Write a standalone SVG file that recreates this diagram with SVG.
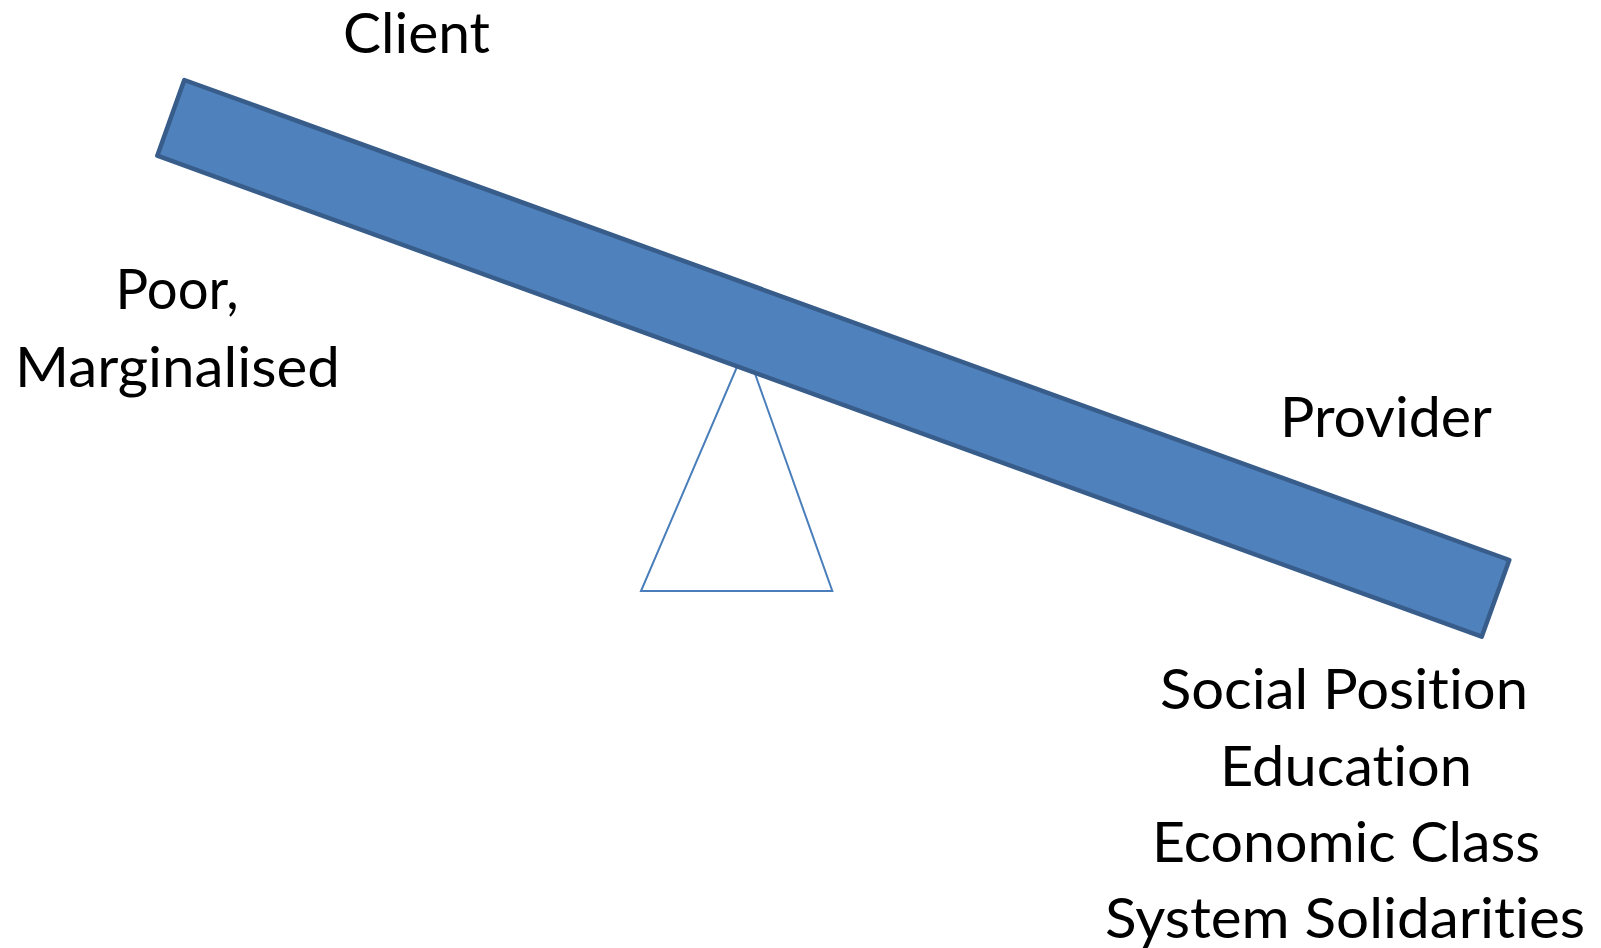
<svg xmlns="http://www.w3.org/2000/svg" width="1601" height="948" viewBox="0 0 1601 948">
<style>
.t{font-family:Lato,"Open Sans","Liberation Sans",sans-serif;font-size:56px;fill:#000;text-anchor:middle;font-variant-ligatures:none;font-feature-settings:"liga" 0,"clig" 0}
.beam{fill:#4f81bd;stroke:#385d8a;stroke-width:4.5;stroke-linejoin:round}
.fulcrum{fill:#fff;stroke:#4a7ebb;stroke-width:2}
</style>
<rect width="1601" height="948" fill="#fff"/>
<g id="fulcrum">
<polygon class="fulcrum" points="745.5,347 832.3,591 641,591"/>
</g>
<g id="beam">
<polygon class="beam" points="184.3,80 1509.3,560 1481.7,636.7 157.3,155.7"/>
</g>
<g id="client"><text class="t" x="416.5" y="53" textLength="147" lengthAdjust="spacingAndGlyphs">Client</text></g>
<g id="poor">
<text class="t" x="177" y="309" textLength="123" lengthAdjust="spacingAndGlyphs">Poor,</text>
<text class="t" x="177.5" y="387" textLength="325" lengthAdjust="spacingAndGlyphs">Marginalised</text>
</g>
<g id="provider"><text class="t" x="1386" y="437" textLength="212" lengthAdjust="spacingAndGlyphs">Provider</text></g>
<g id="attributes">
<text class="t" x="1344" y="709" textLength="368" lengthAdjust="spacingAndGlyphs">Social Position</text>
<text class="t" x="1346" y="786" textLength="252" lengthAdjust="spacingAndGlyphs">Education</text>
<text class="t" x="1346" y="862" textLength="388" lengthAdjust="spacingAndGlyphs">Economic Class</text>
<text class="t" x="1345" y="938" textLength="480" lengthAdjust="spacingAndGlyphs">System Solidarities</text>
</g>
<g id="connectors"/>
</svg>
